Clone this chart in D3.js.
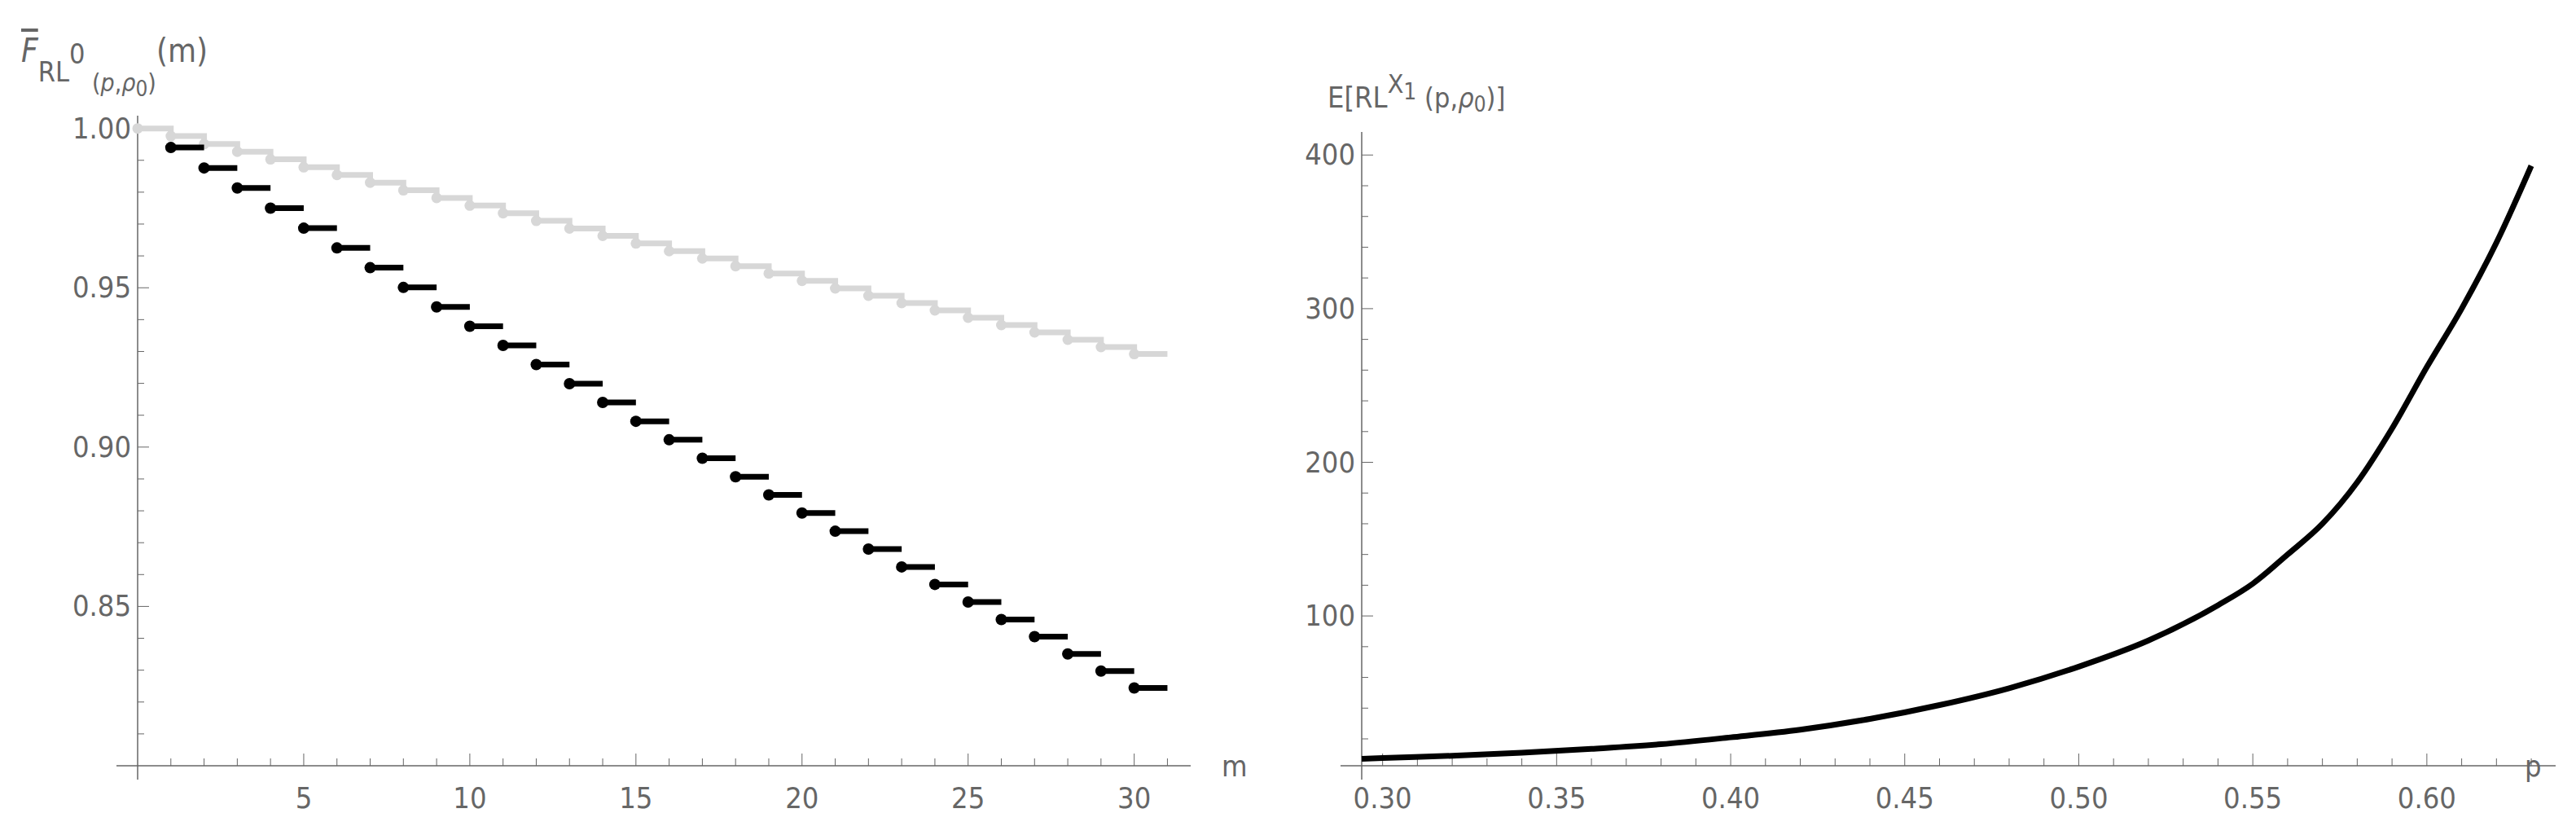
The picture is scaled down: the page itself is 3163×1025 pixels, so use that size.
<!DOCTYPE html>
<html>
<head>
<meta charset="UTF-8">
<script src="https://d3js.org/d3.v7.min.js"></script>
<style>
  body { margin: 0; background: white; }
  svg text { font-family: 'Liberation Sans Narrow', 'DejaVu Sans Condensed', 'Liberation Sans', sans-serif; fill: #666; }
</style>
</head>
<body>
<svg id="chart" width="3163" height="1025"></svg>
<script>
// left panel: survival steps
const grayM = d3.range(0, 31);
const grayVals = [1.000, .9976, .9951, .9927, .9903, .9878, .9854, .9830, .9806, .9782, .9758,
  .9734, .9710, .9686, .9663, .9639, .9615, .9592, .9568, .9545, .9522, .9498, .9475, .9452,
  .9429, .9406, .9383, .9360, .9337, .9314, .9292];
const blackM = d3.range(1, 31);
const blackVals = [.9940, .9876, .9813, .9750, .9687, .9625, .9563, .9501, .9440, .9379,
  .9319, .9259, .9199, .9140, .9081, .9023, .8965, .8907, .8850, .8793, .8736, .8680,
  .8624, .8569, .8514, .8459, .8405, .8351, .8297, .8244];
const leftYTicks = [0.85, 0.90, 0.95, 1.00];
const leftXTicks = [5, 10, 15, 20, 25, 30];

// right panel: expected run length
const pVals = [0.294, 0.30, 0.32, 0.34, 0.36, 0.38, 0.40, 0.42, 0.44, 0.46, 0.48, 0.50,
  0.52, 0.54, 0.55, 0.56, 0.57, 0.58, 0.59, 0.60, 0.61, 0.62, 0.63];
const eVals = [7, 7.5, 9, 11, 13.5, 16.5, 21, 26, 33, 42, 53, 67,
  84, 107, 121, 140, 160, 187, 222, 262, 300, 343, 393];
const rightYTicks = [100, 200, 300, 400];
const rightXTicks = [0.30, 0.35, 0.40, 0.45, 0.50, 0.55, 0.60];

const svg = d3.select("#chart");
const axisCol = "#666";
const fs = 36;

function frame(g, x, y, xMajor, xMinor, yMajor, yMinor, fmtX, fmtY) {
  const [x0, x1] = x.range();
  const [y0, y1] = y.range();
  g.append("line").attr("x1", x0 - 26).attr("x2", x1).attr("y1", y0).attr("y2", y0).attr("stroke", axisCol).attr("stroke-width", 1.5);
  g.append("line").attr("x1", x0).attr("x2", x0).attr("y1", y0 + 17).attr("y2", y1).attr("stroke", axisCol).attr("stroke-width", 1.5);
  xMinor.forEach(v => g.append("line").attr("x1", x(v)).attr("x2", x(v)).attr("y1", y0).attr("y2", y0 - 9).attr("stroke", axisCol));
  xMajor.forEach(v => {
    g.append("line").attr("x1", x(v)).attr("x2", x(v)).attr("y1", y0).attr("y2", y0 - 15).attr("stroke", axisCol);
    g.append("text").attr("x", x(v)).attr("y", y0 + 52).attr("text-anchor", "middle").attr("font-size", fs).text(fmtX(v));
  });
  yMinor.forEach(v => g.append("line").attr("x1", x0).attr("x2", x0 + 8).attr("y1", y(v)).attr("y2", y(v)).attr("stroke", axisCol));
  yMajor.forEach(v => {
    g.append("line").attr("x1", x0).attr("x2", x0 + 14).attr("y1", y(v)).attr("y2", y(v)).attr("stroke", axisCol);
    g.append("text").attr("x", x0 - 8).attr("y", y(v) + 12).attr("text-anchor", "end").attr("font-size", fs).text(fmtY(v));
  });
}

// ---- left ----
const xL = d3.scaleLinear().domain([0, 31.7]).range([169, 1462]);
const yL = d3.scaleLinear().domain([0.80, 1.004]).range([940, 142]);
const gL = svg.append("g");
frame(gL, xL, yL, leftXTicks, d3.range(1, 32).filter(v => v % 5),
  leftYTicks, d3.range(81, 100).map(v => v / 100).filter(v => Math.round(v * 100) % 5),
  d => d, d3.format(".2f"));

// gray staircase
const grayPts = [];
grayM.forEach((m, i) => {
  grayPts.push([m, grayVals[i]]);
  grayPts.push([m + 1, grayVals[i]]);
});
gL.append("path")
  .attr("d", d3.line().x(d => xL(d[0])).y(d => yL(d[1]))(grayPts))
  .attr("fill", "none").attr("stroke", "#d7d7d7").attr("stroke-width", 7);
gL.selectAll(".gdot").data(grayM).enter().append("circle")
  .attr("cx", d => xL(d)).attr("cy", (d, i) => yL(grayVals[i])).attr("r", 6.5).attr("fill", "#d7d7d7");

// black steps
gL.selectAll(".bseg").data(blackM).enter().append("line")
  .attr("x1", d => xL(d)).attr("x2", d => xL(d + 1))
  .attr("y1", (d, i) => yL(blackVals[i])).attr("y2", (d, i) => yL(blackVals[i]))
  .attr("stroke", "black").attr("stroke-width", 7);
gL.selectAll(".bdot").data(blackM).enter().append("circle")
  .attr("cx", d => xL(d)).attr("cy", (d, i) => yL(blackVals[i])).attr("r", 7).attr("fill", "black");

gL.append("text").attr("x", 1500).attr("y", 953).attr("font-size", fs).text("m");
const tL = gL.append("text").attr("x", 26).attr("y", 76).attr("font-size", 40);
tL.append("tspan").attr("font-style", "italic").attr("text-decoration", "overline").text("F");
tL.append("tspan").attr("dy", 24).attr("font-size", 34).text("RL");
tL.append("tspan").attr("dy", -22).attr("font-size", 34).text("0");
tL.append("tspan").attr("dy", 34).attr("font-size", 30).text(" (");
tL.append("tspan").attr("font-size", 30).attr("font-style", "italic").text("p");
tL.append("tspan").attr("font-size", 30).text(",");
tL.append("tspan").attr("font-size", 30).attr("font-style", "italic").text("ρ");
tL.append("tspan").attr("dy", 6).attr("font-size", 26).text("0");
tL.append("tspan").attr("dy", -6).attr("font-size", 30).text(")");
tL.append("tspan").attr("dy", -36).attr("font-size", 40).text("(m)");

// ---- right ----
const xR = d3.scaleLinear().domain([0.294, 0.637]).range([1672, 3162 - 24]);
const yR = d3.scaleLinear().domain([2.5, 415]).range([940, 162]);
const gR = svg.append("g");
frame(gR, xR, yR, rightXTicks, d3.range(30, 64).filter(v => v % 5).map(v => v / 100),
  rightYTicks, d3.range(20, 420, 20).filter(v => v % 100),
  d3.format(".2f"), d => d);
gR.append("path")
  .attr("d", d3.line().curve(d3.curveMonotoneX).x((d, i) => xR(pVals[i])).y(d => yR(d))(eVals))
  .attr("fill", "none").attr("stroke", "black").attr("stroke-width", 7);
gR.append("text").attr("x", 3100).attr("y", 953).attr("font-size", fs).text("p");
const tR = gR.append("text").attr("x", 1630).attr("y", 132).attr("font-size", 36);
tR.append("tspan").text("E[RL");
tR.append("tspan").attr("dy", -18).attr("font-size", 32).text("X");
tR.append("tspan").attr("dy", 8).attr("font-size", 28).text("1");
tR.append("tspan").attr("dy", 10).attr("font-size", 34).text(" (p,");
tR.append("tspan").attr("font-size", 34).attr("font-style", "italic").text("ρ");
tR.append("tspan").attr("dy", 5).attr("font-size", 26).text("0");
tR.append("tspan").attr("dy", -5).attr("font-size", 34).text(")]");
</script>
</body>
</html>
